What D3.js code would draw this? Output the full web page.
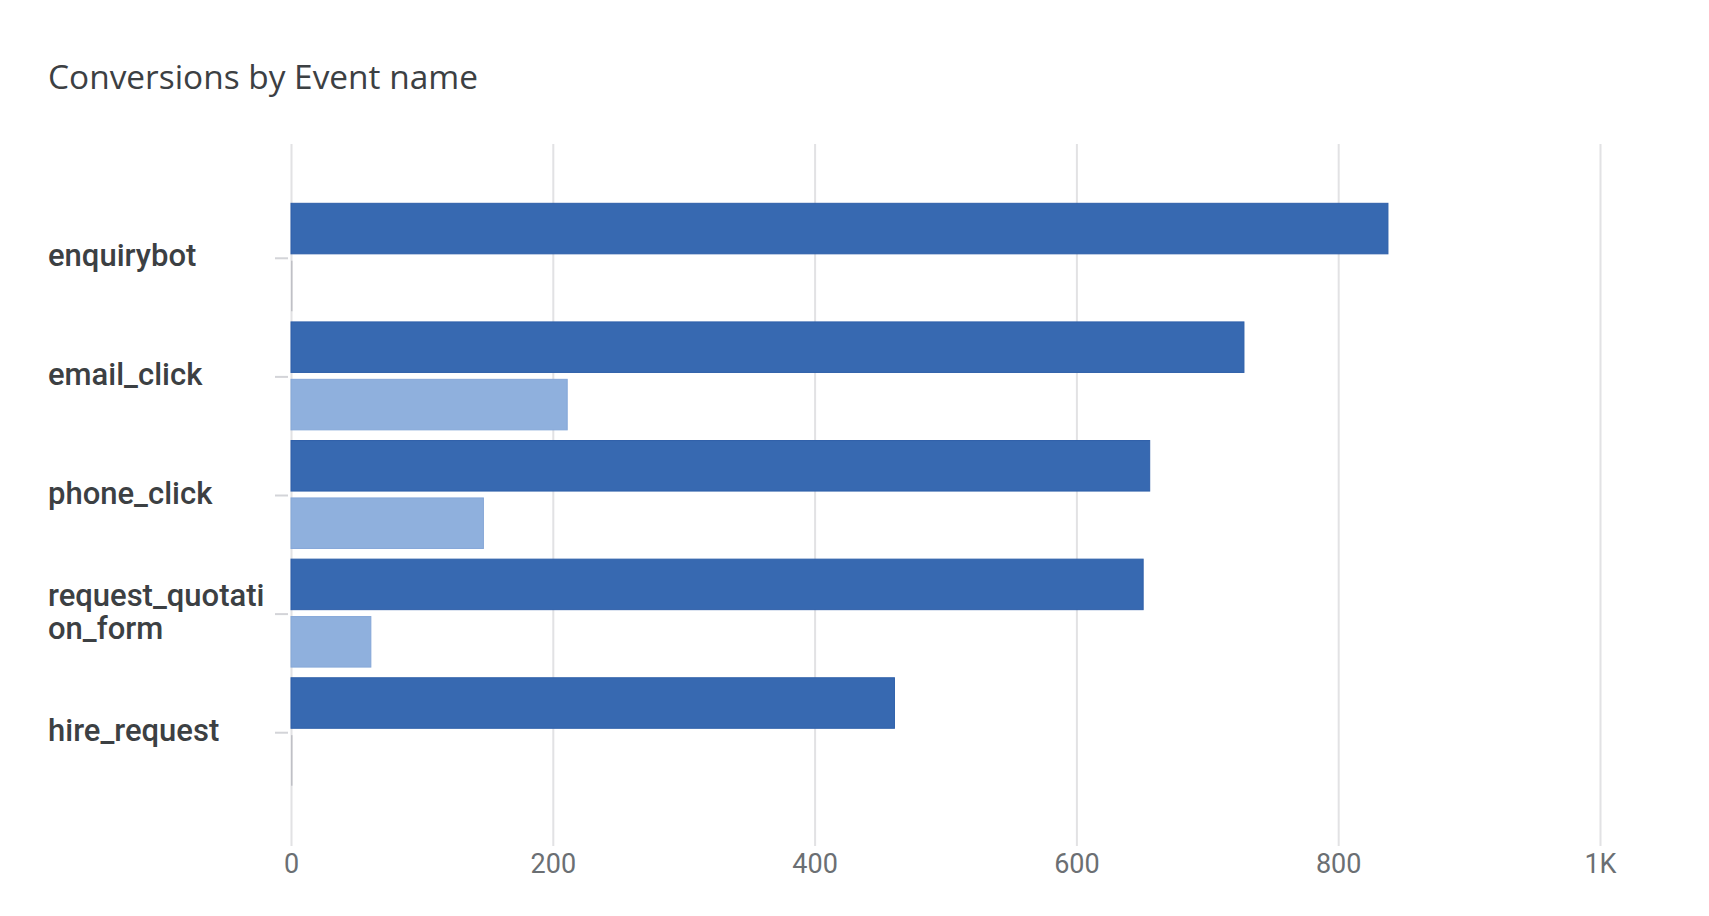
<!DOCTYPE html>
<html>
<head>
<meta charset="utf-8">
<script src="https://cdn.jsdelivr.net/npm/d3@7/dist/d3.min.js"></script>
<style>
  html, body { margin: 0; padding: 0; background: #ffffff; }
  svg { display: block; }
</style>
</head>
<body>
<svg id="chart" width="1709" height="916"></svg>
<script>
// Conversions per event, two comparison periods
const categories = ["enquirybot", "email_click", "phone_click", "request_quotation_form", "hire_request"];
const categoryLines = [["enquirybot"], ["email_click"], ["phone_click"], ["request_quotati", "on_form"], ["hire_request"]];
const currentPeriod = [838, 728, 656, 651, 461];
const previousPeriod = [0, 211, 147, 61, 0];
const seriesNames = ["current", "previous"];
const xTicks = [0, 200, 400, 600, 800, 1000];
const xTickLabels = ["0", "200", "400", "600", "800", "1K"];
const titleText = "Conversions by Event name";

const rows = categories.map((c, i) => ({
  category: c,
  lines: categoryLines[i],
  values: [
    { key: "current", value: currentPeriod[i] },
    { key: "previous", value: previousPeriod[i] }
  ]
}));

const svg = d3.select("#chart");
const plot = { left: 291, right: 1600, top: 144, bottom: 846 };

const x = d3.scaleLinear().domain([0, 1000]).range([plot.left, plot.right]);
const y0 = d3.scaleBand().domain(categories).range([plot.top, plot.bottom - 1])
  .paddingInner(0.09).paddingOuter(0.5);
const y1 = d3.scaleBand().domain(seriesNames).range([0, y0.bandwidth()]).paddingInner(0.12);
const fill = d3.scaleOrdinal().domain(seriesNames).range(["#3769b1", "#8fb0dd"]);
const edge = d3.scaleOrdinal().domain(seriesNames).range(["#2e5fa9", "#85a7d8"]);

// Title
const title = svg.append("text")
  .attr("x", 48).attr("y", 89)
  .attr("fill", "#3c4043")
  .style("font-family", "'Open Sans', Roboto, sans-serif")
  .style("font-size", "100px")
  .text(titleText);
const tw = title.node().getComputedTextLength();
title.style("font-size", (100 * 430 / tw) + "px");

// Vertical gridlines
const xAxis = d3.axisBottom(x).tickValues(xTicks)
  .tickFormat((d, i) => xTickLabels[i])
  .tickSize(-(plot.bottom - plot.top)).tickPadding(10);
const gx = svg.append("g").attr("transform", `translate(0,${plot.bottom})`).call(xAxis);
gx.select(".domain").remove();
gx.selectAll(".tick line").attr("stroke", "#e2e2e4").attr("stroke-width", 2);
gx.selectAll(".tick text")
  .attr("fill", "#6b6f73")
  .attr("dy", 0)
  .attr("y", 27)
  .style("font-family", "Roboto, sans-serif")
  .style("font-size", "27px");

// Category tick marks
svg.append("g").selectAll("line").data(categories).join("line")
  .attr("x1", plot.left - 16).attr("x2", plot.left - 3)
  .attr("y1", d => y0(d) + y0.bandwidth() / 2 + 1)
  .attr("y2", d => y0(d) + y0.bandwidth() / 2 + 1)
  .attr("stroke", "#d3d4d8").attr("stroke-width", 2);

// Bars
const groups = svg.append("g").selectAll("g").data(rows).join("g")
  .attr("transform", d => `translate(0,${y0(d.category)})`);

groups.selectAll("rect").data(d => d.values).join("rect")
  .attr("x", x(0))
  .attr("y", d => y1(d.key))
  .attr("width", d => d.value > 0 ? x(d.value) - x(0) : 1.5)
  .attr("height", y1.bandwidth())
  .attr("fill", d => d.value > 0 ? fill(d.key) : "#bfc0c6")
  .attr("stroke", d => d.value > 0 ? edge(d.key) : "none")
  .attr("stroke-width", 1);

// Category labels
const labelFont = "Roboto, sans-serif";
const labels = svg.append("g").selectAll("text").data(rows).join("text")
  .attr("fill", "#3c4043")
  .style("font-family", labelFont)
  .style("font-weight", 500)
  .style("font-size", "31px");

labels.each(function(d) {
  const t = d3.select(this);
  const cy = y0(d.category) + y0.bandwidth() / 2;
  const lh = 33;
  const n = d.lines.length;
  d.lines.forEach((ln, j) => {
    t.append("tspan")
      .attr("x", 48)
      .attr("y", cy + (j - (n - 1) / 2) * lh + 9)
      .text(ln);
  });
});
</script>
</body>
</html>
